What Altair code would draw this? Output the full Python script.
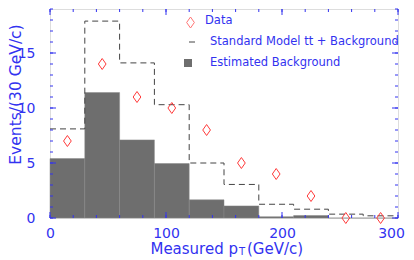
import altair as alt
import pandas as pd

# ---- data ----
bin_lo = [0, 30, 60, 90, 120, 150, 180, 210, 240, 270]
bin_hi = [30, 60, 90, 120, 150, 180, 210, 240, 270, 300]
bin_mid = [15, 45, 75, 105, 135, 165, 195, 225, 255, 285]
background = [5.4, 11.4, 7.1, 4.95, 1.65, 1.1, 0.12, 0.22, 0.0, 0.0]
sm_plus_bg = [8.1, 17.9, 14.1, 10.3, 5.0, 3.05, 1.25, 0.8, 0.35, 0.2]
observed = [7, 14, 11, 10, 8, 5, 4, 2, 0, 0]

y_major = [0, 5, 10, 15]
y_minor = list(range(0, 20))
x_major = [0, 100, 200, 300]
x_minor = list(range(0, 301, 20))

legend_labels = ["Data", "Standard Model tt + Background", "Estimated Background"]
x_title = ["Measured p", "T", "(GeV/c)"]
y_title = "Events/(30 GeV/c)"

W, H = 348, 209
BLUE = "#3232f0"
FONT = "DejaVu Sans"

bins = pd.DataFrame({"lo": bin_lo, "hi": bin_hi, "mid": bin_mid,
                     "bg": background, "sm": sm_plus_bg, "obs": observed})
step = pd.DataFrame({"x": bin_lo + [bin_hi[-1]], "y": sm_plus_bg + [sm_plus_bg[-1]]})

xs = alt.Scale(domain=[0, 300], nice=False, zero=False)
ys = alt.Scale(domain=[0, 19], nice=False, zero=False)

xaxis = alt.Axis(values=x_major, ticks=False, domain=False, grid=False,
                 labelColor=BLUE, labelFont=FONT, labelFontSize=14,
                 labelPadding=8, labelFlush=False, title=None,
                 labelOffset={"condition": {"test": "datum.value === 300", "value": -7},
                              "value": 0})
yaxis = alt.Axis(values=y_major, ticks=False, domain=False, grid=False,
                 labelColor=BLUE, labelFont=FONT, labelFontSize=14,
                 labelPadding=15, labelFlush=False, title=y_title, titleColor=BLUE,
                 titleFont=FONT, titleFontSize=15.5, titleFontWeight="normal",
                 titleX=-35, titleY=85, titleAngle=270,
                 titleAlign="center", titleBaseline="middle")

base = alt.Chart(bins)

hatched = base.mark_rect(fill="#6e6e6e", stroke="#888888", strokeWidth=0.5).encode(
    x=alt.X("lo:Q", scale=xs, axis=xaxis),
    x2="hi:Q",
    y=alt.Y("bg:Q", scale=ys, axis=yaxis),
    y2=alt.datum(0),
)

dashed = alt.Chart(step).mark_line(interpolate="step-after", color="#444444",
                                   strokeDash=[6, 4], strokeWidth=1).encode(
    x=alt.X("x:Q", scale=xs), y=alt.Y("y:Q", scale=ys))

diamond = "M0,-1L0.7,0L0,1L-0.7,0Z"
points = base.mark_point(shape=diamond, size=121, filled=False, color="#ff3a3a",
                         strokeWidth=1, opacity=1).encode(
    x=alt.X("mid:Q", scale=xs), y=alt.Y("obs:Q", scale=ys))

# ticks (inward, all four sides)
def yticks(vals, length):
    d = pd.DataFrame({"v": vals})
    left = alt.Chart(d).mark_rule(color=BLUE, strokeWidth=1).encode(
        y=alt.Y("v:Q", scale=ys), x=alt.value(0), x2=alt.value(length))
    right = alt.Chart(d).mark_rule(color=BLUE, strokeWidth=1).encode(
        y=alt.Y("v:Q", scale=ys), x=alt.value(W - length), x2=alt.value(W))
    return [left, right]

def xticks(vals, length):
    d = pd.DataFrame({"v": vals})
    bottom = alt.Chart(d).mark_rule(color=BLUE, strokeWidth=1).encode(
        x=alt.X("v:Q", scale=xs), y=alt.value(H - length), y2=alt.value(H))
    top = alt.Chart(d).mark_rule(color=BLUE, strokeWidth=1).encode(
        x=alt.X("v:Q", scale=xs), y=alt.value(0), y2=alt.value(length))
    return [bottom, top]

ticks = yticks(y_minor, 3) + yticks(y_major, 6) + xticks(x_minor, 3) + xticks(x_major, 6)

# legend
leg_df = pd.DataFrame({"label": legend_labels})
leg_diamond = alt.Chart(leg_df).transform_filter(alt.datum.label == legend_labels[0]).mark_point(
    shape=diamond, size=121, filled=False, color="#ff3a3a", strokeWidth=1).encode(
    x=alt.value(140.5), y=alt.value(13.5))
leg_dash = alt.Chart(leg_df).transform_filter(alt.datum.label == legend_labels[1]).mark_rule(
    color="#444444", strokeWidth=1).encode(x=alt.value(139), x2=alt.value(145), y=alt.value(33))
leg_square = alt.Chart(leg_df).transform_filter(alt.datum.label == legend_labels[2]).mark_rect(
    fill="#6e6e6e").encode(x=alt.value(134), x2=alt.value(142), y=alt.value(50), y2=alt.value(58))
leg_text = [
    alt.Chart(leg_df).transform_filter(alt.datum.label == lab).mark_text(
        align="left", baseline="middle", color=BLUE, font=FONT, fontSize=11.5).encode(
        text="label:N", x=alt.value(xp), y=alt.value(yp))
    for lab, xp, yp in zip(legend_labels, [155, 160, 160], [12, 33, 54])
]

# x title with subscript
xt_df = pd.DataFrame({"t": x_title})
xt = [
    alt.Chart(xt_df).transform_filter(alt.datum.t == x_title[0]).mark_text(
        align="right", baseline="middle", color=BLUE, font=FONT, fontSize=15).encode(
        text="t:N", x=alt.value(188), y=alt.value(240)),
    alt.Chart(xt_df).transform_filter(alt.datum.t == x_title[1]).mark_text(
        align="left", baseline="middle", color=BLUE, font=FONT, fontSize=10).encode(
        text="t:N", x=alt.value(189), y=alt.value(243)),
    alt.Chart(xt_df).transform_filter(alt.datum.t == x_title[2]).mark_text(
        align="left", baseline="middle", color=BLUE, font=FONT, fontSize=15).encode(
        text="t:N", x=alt.value(197), y=alt.value(240)),
]

chart = alt.layer(hatched, dashed, points, *ticks, leg_diamond, leg_dash, leg_square,
                  *leg_text, *xt).properties(
    width=W, height=H,
    autosize=alt.AutoSizeParams(type="none"),
    padding={"left": 42, "top": 1, "right": 8, "bottom": 42},
).configure_view(stroke="black", strokeWidth=1).configure(background="white")

chart.save("out.html", embed_options={"renderer": "svg", "actions": False})
